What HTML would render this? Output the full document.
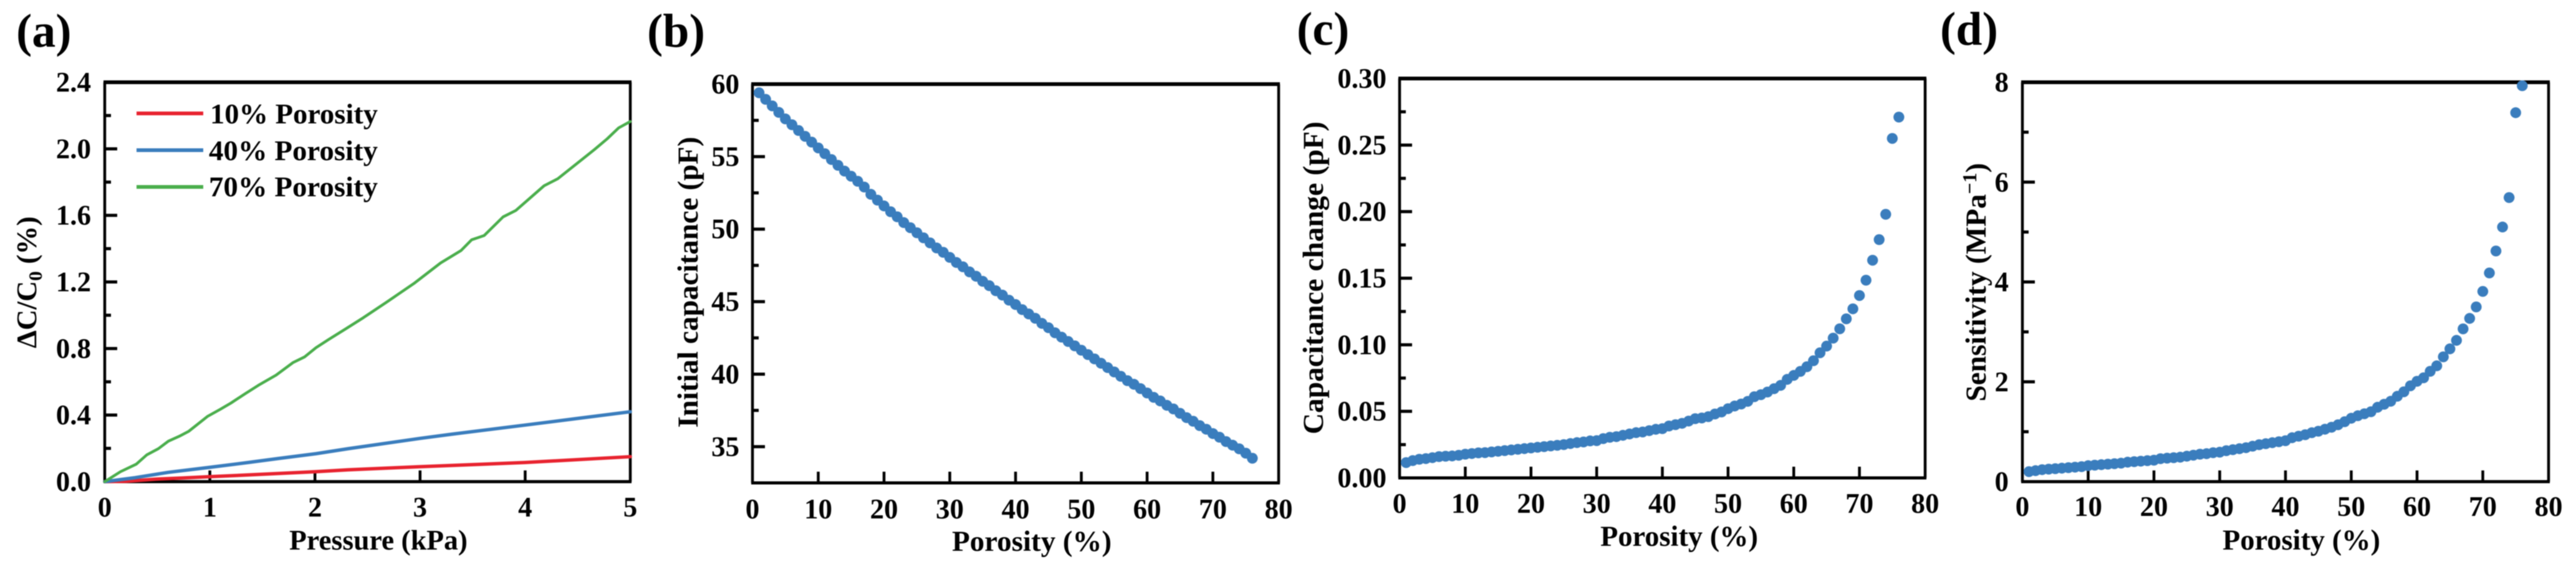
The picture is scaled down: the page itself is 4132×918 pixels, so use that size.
<!DOCTYPE html>
<html lang="en">
<head>
<meta charset="utf-8">
<title>Porosity effects on capacitive pressure sensor</title>
<style>
html,body{margin:0;padding:0;background:#fff;}
svg{display:block;filter:blur(0.7px);}
text{font-family:"Liberation Serif",serif;font-weight:bold;fill:#000;}
</style>
</head>
<body>
<svg id="figure" xmlns="http://www.w3.org/2000/svg" width="4132" height="918" viewBox="0 0 4132 918">
  <rect width="4132" height="918" fill="#fff"/>
  <g id="marks"></g>

  <text x="26" y="75" font-size="76">(a)</text>
  <text x="1038" y="75" font-size="76">(b)</text>
  <text x="2080" y="72" font-size="76">(c)</text>
  <text x="3112" y="72" font-size="76">(d)</text>

  <text x="464" y="882" font-size="45" textLength="286" lengthAdjust="spacingAndGlyphs">Pressure (kPa)</text>
  <text x="1527" y="884" font-size="47" textLength="256" lengthAdjust="spacingAndGlyphs">Porosity (%)</text>
  <text x="2567" y="876" font-size="47" textLength="253" lengthAdjust="spacingAndGlyphs">Porosity (%)</text>
  <text x="3565" y="882" font-size="47" textLength="253" lengthAdjust="spacingAndGlyphs">Porosity (%)</text>

  <text transform="translate(58 453) rotate(-90)" text-anchor="middle" font-size="46">ΔC/C<tspan dy="9" font-size="31">0</tspan><tspan dy="-9"> (%)</tspan></text>
  <text transform="translate(1119 453) rotate(-90)" text-anchor="middle" font-size="47" textLength="467" lengthAdjust="spacingAndGlyphs">Initial capacitance (pF)</text>
  <text transform="translate(2122 446) rotate(-90)" text-anchor="middle" font-size="47" textLength="502" lengthAdjust="spacingAndGlyphs">Capacitance change (pF)</text>
  <text transform="translate(3185 453) rotate(-90)" text-anchor="middle" font-size="47">Sensitivity (MPa<tspan dy="-15" font-size="32">−1</tspan><tspan dy="15">)</tspan></text>

  <g>
    <line x1="219" x2="326" y1="182" y2="182" stroke="#e8232f" stroke-width="6"/>
    <text x="337" y="198" font-size="46" textLength="269" lengthAdjust="spacingAndGlyphs">10% Porosity</text>
    <line x1="219" x2="326" y1="241" y2="241" stroke="#3a7dbd" stroke-width="6"/>
    <text x="335" y="257" font-size="46" textLength="271" lengthAdjust="spacingAndGlyphs">40% Porosity</text>
    <line x1="219" x2="326" y1="300" y2="300" stroke="#4aae4c" stroke-width="6"/>
    <text x="335" y="315" font-size="46" textLength="271" lengthAdjust="spacingAndGlyphs">70% Porosity</text>
  </g>
</svg>

<script>
// ---------- Panel (a) values ----------
const pressureRed = [0, 0.2, 0.486, 0.74, 1, 1.39, 2.01, 2.315, 3, 4, 5];
const capChangeRed = [0, 0.002, 0.015, 0.022, 0.03, 0.041, 0.06, 0.071, 0.09, 0.115, 0.15];
const pressureBlue = [0, 0.29, 0.605, 1, 1.376, 1.65, 2.01, 2.315, 3, 3.3, 4, 4.5, 5];
const capChangeBlue = [0, 0.024, 0.056, 0.086, 0.116, 0.139, 0.168, 0.198, 0.26, 0.285, 0.34, 0.38, 0.42];
const pressureGreen = [0, 0.15, 0.3, 0.4, 0.51, 0.605, 0.71, 0.8, 0.98, 1.1, 1.2, 1.335, 1.475, 1.63, 1.79, 1.9, 2.01, 2.13, 2.29, 2.46, 2.68, 2.94, 3.195, 3.39, 3.49, 3.61, 3.79, 3.91, 4.18, 4.31, 4.66, 4.78, 4.89, 5];
const capChangeGreen = [0, 0.06, 0.105, 0.161, 0.198, 0.243, 0.273, 0.303, 0.393, 0.435, 0.472, 0.528, 0.584, 0.64, 0.715, 0.749, 0.805, 0.854, 0.917, 0.985, 1.078, 1.19, 1.314, 1.389, 1.453, 1.479, 1.591, 1.629, 1.778, 1.82, 1.996, 2.06, 2.126, 2.164];

// ---------- Panels (b), (c), (d): porosity 1..76 ----------
const porosity = [1,2,3,4,5,6,7,8,9,10,11,12,13,14,15,16,17,18,19,20,21,22,23,24,25,26,27,28,29,30,31,32,33,34,35,36,37,38,39,40,41,42,43,44,45,46,47,48,49,50,51,52,53,54,55,56,57,58,59,60,61,62,63,64,65,66,67,68,69,70,71,72,73,74,75,76];
const initialCapacitance = [59.4,58.95,58.5,58.05,57.6,57.2,56.8,56.4,56,55.6,55.2,54.8,54.4,54,53.65,53.3,52.9,52.4,52,51.6,51.2,50.85,50.45,50.1,49.75,49.4,49.05,48.7,48.4,48.05,47.7,47.4,47.05,46.75,46.4,46.1,45.75,45.45,45.1,44.8,44.45,44.15,43.85,43.5,43.2,42.85,42.55,42.25,41.95,41.65,41.35,41.05,40.75,40.45,40.15,39.85,39.55,39.3,39,38.7,38.4,38.15,37.85,37.6,37.3,37,36.75,36.45,36.2,35.9,35.65,35.35,35.1,34.85,34.55,34.2];
const capacitanceChange = [0.0115,0.013,0.014,0.0145,0.0152,0.016,0.0163,0.0165,0.017,0.0178,0.0183,0.0188,0.019,0.0195,0.02,0.0205,0.021,0.0215,0.022,0.0225,0.023,0.0235,0.024,0.0245,0.025,0.0258,0.0265,0.027,0.0278,0.028,0.0295,0.0305,0.031,0.032,0.033,0.034,0.0345,0.0355,0.0365,0.037,0.039,0.04,0.041,0.0427,0.0445,0.045,0.046,0.048,0.0495,0.052,0.054,0.0555,0.0575,0.061,0.0625,0.0645,0.067,0.0695,0.074,0.077,0.08,0.0835,0.088,0.094,0.099,0.105,0.112,0.1195,0.127,0.137,0.1485,0.1635,0.179,0.198,0.255,0.271];
const sensitivity = [0.2,0.22,0.24,0.25,0.26,0.27,0.28,0.29,0.3,0.32,0.33,0.34,0.35,0.36,0.37,0.39,0.4,0.41,0.42,0.43,0.46,0.47,0.48,0.49,0.51,0.53,0.55,0.56,0.58,0.59,0.62,0.64,0.66,0.68,0.71,0.74,0.76,0.78,0.8,0.82,0.88,0.91,0.94,0.98,1.01,1.05,1.09,1.14,1.2,1.27,1.32,1.36,1.4,1.49,1.55,1.61,1.71,1.8,1.92,2.01,2.08,2.21,2.32,2.5,2.66,2.83,3.06,3.27,3.5,3.81,4.18,4.62,5.1,5.69,7.39,7.93];

// ---------- Tick labels ----------
const xTicksA = ['0','1','2','3','4','5'];
const yTicksA = ['0.0','0.4','0.8','1.2','1.6','2.0','2.4'];
const xTicksPorosity = ['0','10','20','30','40','50','60','70','80'];
const yTicksB = ['35','40','45','50','55','60'];
const yTicksC = ['0.00','0.05','0.10','0.15','0.20','0.25','0.30'];
const yTicksD = ['0','2','4','6','8'];

const SVGNS = 'http://www.w3.org/2000/svg';
const root = document.getElementById('marks');

function make(tag, attrs, parent) {
  const el = document.createElementNS(SVGNS, tag);
  for (const k in attrs) el.setAttribute(k, attrs[k]);
  parent.appendChild(el);
  return el;
}

function linearScale(d0, d1, r0, r1) {
  return function (v) { return r0 + (v - d0) / (d1 - d0) * (r1 - r0); };
}

function drawAxes(p, group) {
  const sx = linearScale(p.xMin, p.xMax, p.left, p.right);
  const sy = linearScale(p.yMin, p.yMax, p.bottom, p.top);

  const frame = make('path', {
    d: 'M' + p.left + ' ' + p.top + 'V' + p.bottom + 'M' + p.right + ' ' + p.top + 'V' + p.bottom,
    stroke: '#000', 'stroke-width': 4.5, fill: 'none'
  }, group);
  
  

  const topSpine = make('line', { x1: p.left - 2, x2: p.right + 2, y1: p.top, y2: p.top, stroke: '#000', 'stroke-width': 6 }, group);
  
  

  const bottomSpine = make('line', { x1: p.left - 2, x2: p.right + 2, y1: p.bottom, y2: p.bottom, stroke: '#000', 'stroke-width': 5 }, group);
  
  

  p.xLabels.forEach(function (label) {
    const v = parseFloat(label);
    const x = sx(v);
    if (v > p.xMin && v < p.xMax) {
      const t = make('line', { x1: x, x2: x, y1: p.bottom, y2: p.bottom - 18, stroke: '#000', 'stroke-width': 4.5 }, group);
      
      
    }
    const txt = make('text', { x: x, y: p.xLabelBase, 'text-anchor': 'middle', 'font-size': 45 }, group);
    txt.textContent = label;
    
    
  });

  p.yLabels.forEach(function (label, i) {
    const v = parseFloat(label);
    const y = sy(v);
    if (v > p.yMin && v < p.yMax) {
      const t = make('line', { x1: p.left, x2: p.left + 20, y1: y, y2: y, stroke: '#000', 'stroke-width': 5 }, group);
      
      
    }
    const txt = make('text', { x: p.yLabelRight, y: y + 15, 'text-anchor': 'end', 'font-size': 45 }, group);
    txt.textContent = label;
    
    
    if (i < p.yLabels.length - 1) {
      const mid = (v + parseFloat(p.yLabels[i + 1])) / 2;
      const m = make('line', { x1: p.left, x2: p.left + 10, y1: sy(mid), y2: sy(mid), stroke: '#000', 'stroke-width': 5 }, group);
      
      
    }
  });
  return { sx: sx, sy: sy };
}

function drawLine(xs, ys, scales, color, width, group) {
  const pts = xs.map(function (x, i) { return scales.sx(x) + ',' + scales.sy(ys[i]); }).join(' ');
  return make('polyline', { points: pts, fill: 'none', stroke: color, 'stroke-width': width, 'stroke-linejoin': 'round', 'stroke-linecap': 'round' }, group);
}

function drawPoints(xs, ys, scales, group) {
  xs.forEach(function (x, i) {
    const c = make('circle', { cx: scales.sx(x), cy: scales.sy(ys[i]), r: 8.7, fill: '#3a7dbd' }, group);
    
    
  });
}

// ---------- Panel (a) ----------
const groupA = make('g', {}, root);


const scalesA = drawAxes({
  left: 168, right: 1011, top: 132, bottom: 773,
  xMin: 0, xMax: 5, yMin: 0, yMax: 2.4,
  xLabels: xTicksA, yLabels: yTicksA, xLabelBase: 829, yLabelRight: 146
}, groupA);
const lineRed = drawLine(pressureRed, capChangeRed, scalesA, '#e8232f', 5.5, groupA);


const lineBlue = drawLine(pressureBlue, capChangeBlue, scalesA, '#3a7dbd', 5.5, groupA);


const lineGreen = drawLine(pressureGreen, capChangeGreen, scalesA, '#4aae4c', 4.5, groupA);



// ---------- Panel (b) ----------
const groupB = make('g', {}, root);


const scalesB = drawAxes({
  left: 1207, right: 2051, top: 135, bottom: 775,
  xMin: 0, xMax: 80, yMin: 32.5, yMax: 60,
  xLabels: xTicksPorosity, yLabels: yTicksB, xLabelBase: 832, yLabelRight: 1186
}, groupB);
drawPoints(porosity, initialCapacitance, scalesB, groupB);

// ---------- Panel (c) ----------
const groupC = make('g', {}, root);


const scalesC = drawAxes({
  left: 2245, right: 3088, top: 126, bottom: 767,
  xMin: 0, xMax: 80, yMin: 0, yMax: 0.3,
  xLabels: xTicksPorosity, yLabels: yTicksC, xLabelBase: 823, yLabelRight: 2224
}, groupC);
drawPoints(porosity, capacitanceChange, scalesC, groupC);

// ---------- Panel (d) ----------
const groupD = make('g', {}, root);


const scalesD = drawAxes({
  left: 3244, right: 4088, top: 132, bottom: 773,
  xMin: 0, xMax: 80, yMin: 0, yMax: 8,
  xLabels: xTicksPorosity, yLabels: yTicksD, xLabelBase: 828, yLabelRight: 3222
}, groupD);
drawPoints(porosity, sensitivity, scalesD, groupD);
</script>
</body>
</html>
